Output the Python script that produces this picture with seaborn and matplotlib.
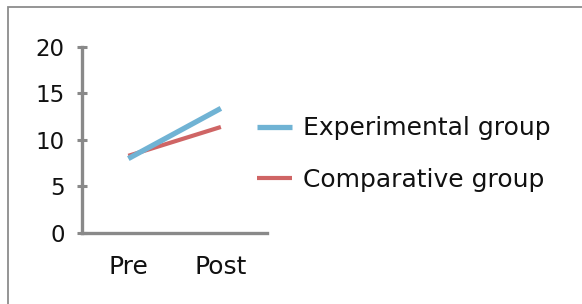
import matplotlib
matplotlib.use("Agg")
import matplotlib.pyplot as plt
import seaborn as sns
import pandas as pd
from matplotlib.patches import Rectangle
from matplotlib.lines import Line2D

# data
phases = ["Pre", "Post"]
experimental = [8.0, 13.4]
comparative = [8.3, 11.4]
groups = ["Experimental group", "Comparative group"]
y_ticks = [0, 5, 10, 15, 20]

sns.set_style("white")
plt.rcParams['font.family'] = ['DejaVu Sans']
plt.rcParams['text.color'] = '#111111'

df = pd.DataFrame({
    'phase': phases * 2,
    'score': experimental + comparative,
    'group': [groups[0]] * 2 + [groups[1]] * 2,
})

fig = plt.figure(figsize=(5.82, 3.04), dpi=100)
ax = fig.add_axes([0.141, 0.2336, 0.318, 0.6118])

palette = {groups[0]: '#70B3D4', groups[1]: '#CF6565'}
sns.lineplot(data=df, x='phase', y='score', hue='group', hue_order=groups[::-1],
             palette=palette, ax=ax, legend=False, sort=False)
for line in ax.lines:
    lw = 3.8 if line.get_color() == palette[groups[0]] else 3.0
    line.set_linewidth(lw)
    line.set_solid_capstyle('butt')

ax.set_xlim(-0.5, 1.5)
ax.set_ylim(0, 20)
ax.set_yticks(y_ticks)
ax.set_xlabel('')
ax.set_ylabel('')
for side in ['top', 'right']:
    ax.spines[side].set_visible(False)
for side in ['left', 'bottom']:
    ax.spines[side].set_color('#898989')
    ax.spines[side].set_linewidth(2.4)
ax.tick_params(axis='y', left=True, direction='inout', length=7, width=2.2,
               color='#898989', labelsize=16.5, labelcolor='#111111', pad=9)
ax.tick_params(axis='x', bottom=False, labelsize=18, labelcolor='#111111', pad=12)

# legend in the right half, experimental on top
handles = [Line2D([], [], color=palette[g], lw=3.8 if g == groups[0] else 3.0,
                  solid_capstyle='butt') for g in groups]
fig.legend(handles, groups, loc='center left', bbox_to_anchor=(0.403, 0.493),
           frameon=False, fontsize=18, handlelength=1.4, handletextpad=0.45,
           labelspacing=1.1, labelcolor='#111111')

# frame around the chart area (cropped on right and bottom)
fig.patches.append(Rectangle((8 / 582, -0.1), 1.1, 1.1 - 7 / 304,
                             transform=fig.transFigure, fill=False,
                             edgecolor='#8c8c8c', linewidth=1.3))

fig.savefig('out.png', dpi=100)
